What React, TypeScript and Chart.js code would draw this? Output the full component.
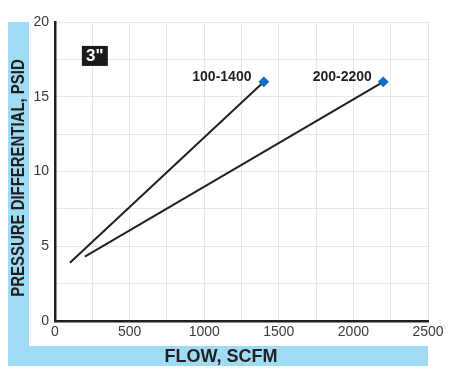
import React, { useEffect, useRef } from "react";
import { Chart, registerables } from "chart.js";

Chart.register(...registerables);

// Data
const flowSmall = [100, 1400];
const psidSmall = [3.9, 16];
const flowLarge = [200, 2200];
const psidLarge = [4.3, 16];
const seriesNames = ["100-1400", "200-2200"];
const sizeLabel = '3"';
const xTitle = "FLOW, SCFM";
const yTitle = "PRESSURE DIFFERENTIAL, PSID";
const xMax = 2500;
const yMax = 20;

const INK = "#231f20";
const BLUE_BAND = "#a0dbf6";
const MARK = "#0f6fc2";

const decoPlugin = {
  id: "deco",
  beforeDraw(chart: any) {
    const ctx = chart.ctx;
    ctx.save();
    ctx.fillStyle = BLUE_BAND;
    ctx.fillRect(8, 22, 21, 344);
    ctx.fillRect(8, 346, 420, 20);
    ctx.restore();
  },
  afterDatasetsDraw(chart: any) {
    const ctx = chart.ctx;
    const xs = chart.scales.x;
    const ys = chart.scales.y;
    ctx.save();
    // axis titles
    ctx.fillStyle = INK;
    ctx.textAlign = "center";
    ctx.textBaseline = "middle";
    ctx.font = "bold 18px 'Liberation Sans', Arial, sans-serif";
    ctx.fillText(xTitle, 221, 357);
    ctx.save();
    ctx.translate(18.5, 178);
    ctx.rotate(-Math.PI / 2);
    ctx.scale(0.83, 1);
    ctx.font = "bold 18px 'Liberation Sans', Arial, sans-serif";
    ctx.fillText(yTitle, 0, 1);
    ctx.restore();

    // series labels near end points
    ctx.font = "bold 14px 'Liberation Sans', Arial, sans-serif";
    ctx.fillStyle = INK;
    ctx.fillText(seriesNames[0], xs.getPixelForValue(flowSmall[1]) - 42, ys.getPixelForValue(psidSmall[1]) - 5);
    ctx.fillText(seriesNames[1], xs.getPixelForValue(flowLarge[1]) - 41, ys.getPixelForValue(psidLarge[1]) - 5);

    // size badge
    const bx = xs.getPixelForValue(180);
    const by = ys.getPixelForValue(18.4);
    ctx.fillStyle = "#1a1a1a";
    ctx.fillRect(bx, by, 26, 20);
    ctx.fillStyle = "#ffffff";
    ctx.font = "bold 17px 'Liberation Sans', Arial, sans-serif";
    ctx.fillText(sizeLabel, bx + 13, by + 10.5);
    ctx.restore();
  },
};

export default function App() {
  const ref = useRef<HTMLCanvasElement | null>(null);
  useEffect(() => {
    if (!ref.current) return;
    const tickFont = { family: "'Liberation Sans', Arial, sans-serif", size: 14 };
    const chart = new Chart(ref.current, {
      type: "scatter",
      data: {
        datasets: [
          {
            label: seriesNames[0],
            data: flowSmall.map((x, i) => ({ x, y: psidSmall[i] })),
            showLine: true,
            borderColor: INK,
            borderWidth: 2,
            pointStyle: "rectRot",
            pointRadius: [0, 4],
            pointBackgroundColor: MARK,
            pointBorderColor: MARK,
          },
          {
            label: seriesNames[1],
            data: flowLarge.map((x, i) => ({ x, y: psidLarge[i] })),
            showLine: true,
            borderColor: INK,
            borderWidth: 2,
            pointStyle: "rectRot",
            pointRadius: [0, 4],
            pointBackgroundColor: MARK,
            pointBorderColor: MARK,
          },
        ],
      },
      options: {
        animation: false,
        responsive: false,
        devicePixelRatio: 1,
        layout: { padding: { left: 8, top: 22, right: 21, bottom: 0 } },
        plugins: { legend: { display: false }, tooltip: { enabled: false } },
        scales: {
          x: {
            type: "linear",
            min: 0,
            max: xMax,
            afterFit(scale: any) {
              scale.height = 50;
            },
            grid: { color: "#e6e6e6", lineWidth: 1, drawTicks: false },
            border: { color: INK, width: 2.5 },
            ticks: {
              stepSize: 250,
              autoSkip: false,
              maxRotation: 0,
              padding: 3,
              color: "#3a3a3a",
              font: tickFont,
              callback: (v: any) => (Number(v) % 500 === 0 ? String(v) : ""),
            },
          },
          y: {
            type: "linear",
            min: 0,
            max: yMax,
            afterFit(scale: any) {
              scale.width = 47;
            },
            grid: { color: "#e6e6e6", lineWidth: 1, drawTicks: false },
            border: { color: INK, width: 2.5 },
            ticks: {
              stepSize: 2.5,
              autoSkip: false,
              padding: 6,
              color: "#3a3a3a",
              font: tickFont,
              callback: (v: any) => (Number(v) % 5 === 0 ? String(v) : ""),
            },
          },
        },
      },
      plugins: [decoPlugin],
    });
    return () => chart.destroy();
  }, []);
  return (
    <canvas
      ref={ref}
      width={449}
      height={371}
      style={{ position: "fixed", left: 0, top: 0, width: 449, height: 371 }}
    />
  );
}
